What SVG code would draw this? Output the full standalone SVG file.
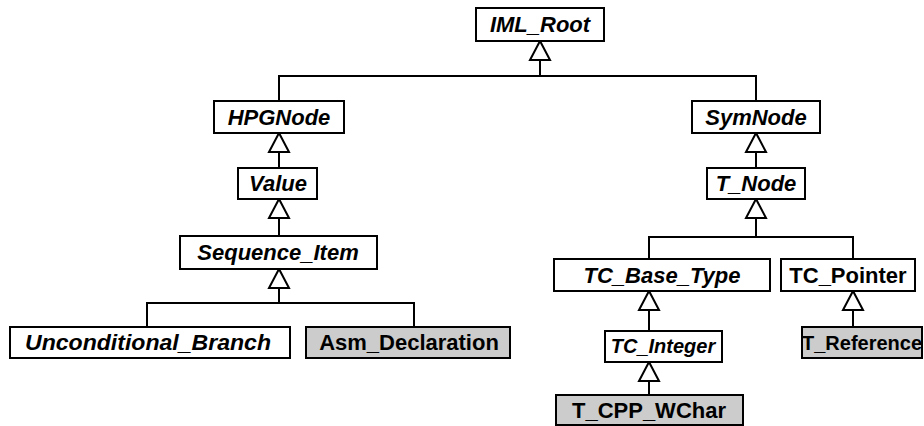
<svg xmlns="http://www.w3.org/2000/svg" width="924" height="426" viewBox="0 0 924 426">
  <style>
    .box { fill: #ffffff; stroke: #000000; stroke-width: 2; }
    .box.concrete { fill: #cccccc; }
    .lbl { font-family: "Liberation Sans", Arial, sans-serif; font-size: 22px; font-weight: bold; text-anchor: middle; fill: #000000; }
    .abstract { font-style: italic; }
    .small { font-size: 20px; }
    .edge { fill: none; stroke: #000000; stroke-width: 2; }
    .head { fill: #ffffff; stroke: #000000; stroke-width: 2; stroke-linejoin: miter; }
  </style>
  <rect width="924" height="426" fill="#ffffff"/>

  <!-- generalization connectors -->
  <g id="connectors">
    <!-- IML_Root children -->
    <path class="edge" d="M540 60 V76 M279 101 V76 H756 V101"/>
    <polygon class="head" points="540,41 530,60 550,60"/>
    <!-- HPGNode -> Value -->
    <path class="edge" d="M279 152 V168"/>
    <polygon class="head" points="279,133 269,152 289,152"/>
    <!-- Value -> Sequence_Item -->
    <path class="edge" d="M279 218 V236"/>
    <polygon class="head" points="279,199 269,218 289,218"/>
    <!-- Sequence_Item children -->
    <path class="edge" d="M279 288 V303 M147 327 V303 H414 V327"/>
    <polygon class="head" points="279,269 269,288 289,288"/>
    <!-- SymNode -> T_Node -->
    <path class="edge" d="M756 152 V168"/>
    <polygon class="head" points="756,133 746,152 766,152"/>
    <!-- T_Node children -->
    <path class="edge" d="M756 218 V237 M649 259 V237 H853 V259"/>
    <polygon class="head" points="756,199 746,218 766,218"/>
    <!-- TC_Base_Type -> TC_Integer -->
    <path class="edge" d="M649 310 V331"/>
    <polygon class="head" points="649,291 639,310 659,310"/>
    <!-- TC_Integer -> T_CPP_WChar -->
    <path class="edge" d="M649 381 V395"/>
    <polygon class="head" points="649,362 639,381 659,381"/>
    <!-- TC_Pointer -> T_Reference -->
    <path class="edge" d="M853 310 V327"/>
    <polygon class="head" points="853,291 843,310 863,310"/>
  </g>

  <g id="IML_Root">
    <rect class="box" x="476" y="8" width="128" height="33"/>
    <text class="lbl abstract" x="540" y="32">IML_Root</text>
  </g>
  <g id="HPGNode">
    <rect class="box" x="214" y="101" width="130" height="32"/>
    <text class="lbl abstract" x="279" y="125">HPGNode</text>
  </g>
  <g id="Value">
    <rect class="box" x="238" y="168" width="79" height="31"/>
    <text class="lbl abstract" x="278" y="191">Value</text>
  </g>
  <g id="Sequence_Item">
    <rect class="box" x="180" y="236" width="197" height="33"/>
    <text class="lbl abstract" x="278" y="260">Sequence_Item</text>
  </g>
  <g id="Unconditional_Branch">
    <rect class="box" x="10" y="327" width="280" height="31"/>
    <text class="lbl abstract" x="148" y="350" textLength="246" lengthAdjust="spacingAndGlyphs">Unconditional_Branch</text>
  </g>
  <g id="Asm_Declaration">
    <rect class="box concrete" x="306" y="327" width="204" height="31"/>
    <text class="lbl" x="409" y="350">Asm_Declaration</text>
  </g>
  <g id="SymNode">
    <rect class="box" x="692" y="101" width="128" height="32"/>
    <text class="lbl abstract" x="756" y="125">SymNode</text>
  </g>
  <g id="T_Node">
    <rect class="box" x="707" y="168" width="98" height="31"/>
    <text class="lbl abstract" x="756" y="191">T_Node</text>
  </g>
  <g id="TC_Base_Type">
    <rect class="box" x="554" y="259" width="216" height="32"/>
    <text class="lbl abstract" x="662" y="283">TC_Base_Type</text>
  </g>
  <g id="TC_Pointer">
    <rect class="box" x="781" y="259" width="134" height="32"/>
    <text class="lbl" x="848" y="283">TC_Pointer</text>
  </g>
  <g id="TC_Integer">
    <rect class="box" x="605" y="331" width="117" height="31"/>
    <text class="lbl abstract small" x="663" y="353">TC_Integer</text>
  </g>
  <g id="T_CPP_WChar">
    <rect class="box concrete" x="556" y="395" width="187" height="30"/>
    <text class="lbl" x="649" y="418">T_CPP_WChar</text>
  </g>
  <g id="T_Reference">
    <rect class="box concrete" x="802" y="327" width="120" height="31"/>
    <text class="lbl small" x="862" y="349.5">T_Reference</text>
  </g>
</svg>
